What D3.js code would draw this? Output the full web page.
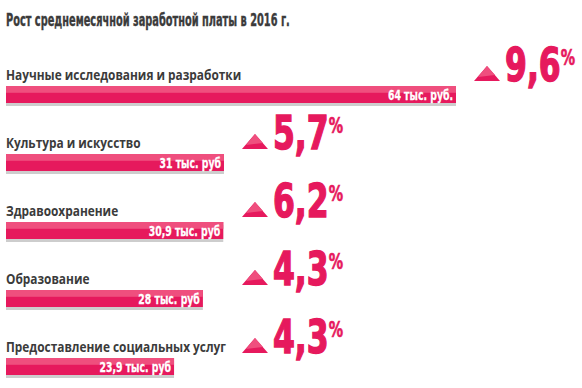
<!DOCTYPE html>
<html>
<head>
<meta charset="utf-8">
<script src="https://cdn.jsdelivr.net/npm/d3@7"></script>
<style>
  body { margin: 0; background: #fff; }
  svg { display: block; }
</style>
</head>
<body>
<div id="chart"></div>
<script>
// data
const title = "Рост среднемесячной заработной платы в 2016 г.";
const categories = [
    "Научные исследования и разработки",
    "Культура и искусство",
    "Здравоохранение",
    "Образование",
    "Предоставление социальных услуг"
];
const salaries = [64, 31, 30.9, 28, 23.9];
const salaryLabels = ["64 тыс. руб.", "31 тыс. руб", "30,9 тыс. руб", "28 тыс. руб", "23,9 тыс. руб"];
const growth = [9.6, 5.7, 6.2, 4.3, 4.3];

const width = 582, height = 388;
const narrow = "'DejaVu Sans Condensed', 'DejaVu Sans', sans-serif";
const pink = "#e6195d", pinkLight = "#ef4f7e", grey = "#3b3b3b";

const rows = categories.map(function (c, i) {
    return { cat: c, value: salaries[i], label: salaryLabels[i], growth: growth[i] };
});

const svg = d3.select("#chart")
    .append("svg")
    .attr("width", width)
    .attr("height", height);

// scales
const x = d3.scaleLinear()
    .domain([0, 64])
    .range([6, 456]);

const y = d3.scalePoint()
    .domain(categories)
    .range([86, 358]);

const barH = 17;
const fmt = function (v) { return d3.format(".1f")(v).replace(".", ","); };
// percentage column: right of the bars, pushed out by the longest one
const colX = function (d) { return Math.max(x(d.value), x(salaries[1])) + 18; };

// squeeze a text horizontally around its anchor point
function squeezed(sel, pos, sx, family) {
    return sel.append("g")
        .attr("transform", function (d) {
            const p = typeof pos === "function" ? pos(d) : pos;
            return "translate(" + p[0] + "," + p[1] + ") scale(" + sx + ",1)";
        })
        .append("text")
        .attr("font-family", family || narrow)
        .attr("font-weight", "bold");
}

squeezed(svg, [6, 26], 0.59)
    .attr("font-size", 18.5)
    .attr("fill", grey)
    .attr("stroke", grey)
    .attr("stroke-width", 0.4)
    .text(title);

const g = svg.selectAll("g.row")
    .data(rows)
    .enter()
    .append("g")
    .attr("class", "row")
    .attr("transform", function (d) { return "translate(0," + y(d.cat) + ")"; });

// category label
squeezed(g, [6, -6], 0.86, "'Open Sans', sans-serif")
    .attr("font-size", 13.8)
    .attr("fill", grey)
    .text(function (d) { return d.cat; });

// shadow, bar, light top stripe
g.append("rect")
    .attr("x", x(0))
    .attr("y", 3)
    .attr("width", function (d) { return x(d.value) - x(0); })
    .attr("height", barH)
    .attr("fill", "#cdcdcd");

g.append("rect")
    .attr("x", x(0))
    .attr("y", 0)
    .attr("width", function (d) { return x(d.value) - x(0); })
    .attr("height", barH)
    .attr("fill", pink);

g.append("rect")
    .attr("x", x(0))
    .attr("y", 0)
    .attr("width", function (d) { return x(d.value) - x(0); })
    .attr("height", barH * 0.4)
    .attr("fill", pinkLight);

squeezed(g, function (d) { return [x(d.value) - 3, 13.5]; }, 0.74)
    .attr("text-anchor", "end")
    .attr("font-size", 14)
    .attr("fill", "#fff")
    .attr("stroke", "#fff")
    .attr("stroke-width", 0.3)
    .text(function (d) { return d.label; });

// triangle
g.append("path")
    .attr("d", function (d) {
        const tx = colX(d);
        return "M" + tx + ",-5 L" + (tx + 26) + ",-5 L" + (tx + 13) + ",-20 Z";
    })
    .attr("fill", pink);

g.append("path")
    .attr("d", function (d) {
        const tx = colX(d);
        return "M" + (tx + 4) + ",-9 L" + (tx + 21) + ",-11 L" + (tx + 13) + ",-20 Z";
    })
    .attr("fill", pinkLight);

// growth number
const pct = squeezed(g, function (d) { return [colX(d) + 31, -5]; }, 0.76)
    .attr("font-size", 46)
    .attr("fill", pink)
    .attr("stroke", pink)
    .attr("stroke-width", 1.4);

pct.append("tspan")
    .text(function (d) { return fmt(d.growth); });

pct.append("tspan")
    .attr("font-size", 21)
    .attr("stroke-width", 0.6)
    .attr("dy", -16)
    .text("%");
</script>
</body>
</html>
